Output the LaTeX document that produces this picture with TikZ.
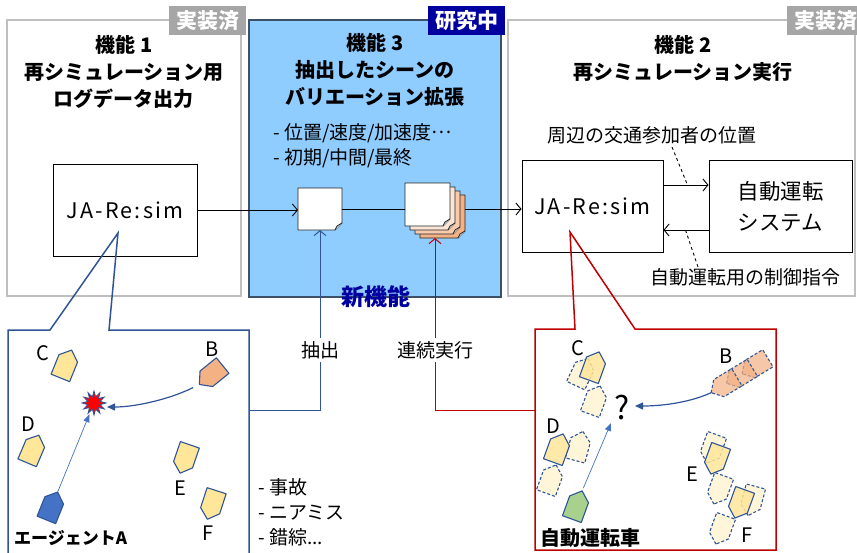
\documentclass[tikz,border=0pt]{standalone}
\usepackage{fontspec}
\setmainfont{Noto Sans CJK JP}
\usetikzlibrary{arrows.meta,calc,shapes.geometric}

\definecolor{frameGray}{RGB}{191,191,191}
\definecolor{tagGray}{RGB}{166,166,166}
\definecolor{tagBlue}{RGB}{0,0,160}
\definecolor{skyFill}{RGB}{143,204,255}
\definecolor{skyEdge}{RGB}{60,80,105}
\definecolor{navy}{RGB}{47,85,151}
\definecolor{lightNavy}{RGB}{68,114,196}
\definecolor{darkRed}{RGB}{192,0,0}
\definecolor{carYellow}{RGB}{255,230,153}
\definecolor{ghostYellow}{RGB}{255,242,204}
\definecolor{carOrange}{RGB}{244,177,131}
\definecolor{carGreen}{RGB}{169,209,142}
\definecolor{peachA}{RGB}{251,229,214}
\definecolor{peachB}{RGB}{248,203,173}
\definecolor{peachC}{RGB}{244,177,131}

\tikzset{
  frame/.style={draw=frameGray, line width=1.3},
  tagbox/.style={text=white, font=\fontsize{21}{21}\selectfont\bfseries,
    minimum width=77, minimum height=29, inner sep=0, anchor=north west},
  ttl/.style={align=center, font=\fontsize{20}{27}\selectfont\bfseries, inner sep=0},
  txt/.style={font=\fontsize{19}{25}\selectfont, inner sep=1},
  simbox/.style={draw=black, line width=1, fill=white, inner sep=0, minimum height=92},
  simfont/.style={font=\fontsize{21.5}{21.5}\selectfont\addfontfeatures{LetterSpace=10}},
  sheetnode/.style={minimum width=44, minimum height=42, inner sep=0, outer sep=0},
  sheetline/.style={draw=black!85, line width=0.8, line join=round},
  link/.style={draw=black, line width=0.9},
  oa/.style={-{Straight Barb[length=5pt,width=12pt]}},
  knock/.style={txt, fill=white, inner sep=3},
  calloutL/.style={draw=navy, line width=1.5},
  calloutR/.style={draw=darkRed, line width=1.5},
  carlbl/.style={font=\fontsize{20}{20}\selectfont, inner sep=0},
  solidcar/.style={draw=navy, line width=1.1, line join=round, fill=#1},
  softcar/.style={draw=navy, line width=1.1, line join=round, fill=#1, fill opacity=0.85},
  ghostcar/.style={draw=navy, line width=1.1, line join=round,
    dash pattern=on 3pt off 2pt, fill=#1, fill opacity=0.75},
  bghost/.style={draw=navy, line width=1.1, line join=round,
    dash pattern=on 3pt off 2pt, fill=peachC, fill opacity=0.7},
  pics/car/.style={code={
    \path[#1] (0,-15) -- (10,-6) -- (10,15) -- (-10,15) -- (-10,-6) -- cycle;
    \coordinate (-nose) at (0,-15);
  }},
}

% a sheet of paper with a curled lower right corner, drawn on a sheet node
\newcommand\drawsheet[2]{%
  \draw[sheetline, fill=#2] (#1.north west) -- (#1.north east)
    -- ($(#1.south east)+(0,-7)$) -- ($(#1.south east)+(-7,0)$)
    -- (#1.south west) -- cycle;
  \draw[sheetline, fill=black!12] ($(#1.south east)+(0,-7)$)
    -- ($(#1.south east)+(-5,-4)$) -- ($(#1.south east)+(-7,0)$);
}
% ellipsis set on the middle of the line
\newcommand\midellipsis{\raisebox{0.3em}{…}}

\begin{document}
\begin{tikzpicture}[x=1pt,y=-1pt]
\useasboundingbox (0,0) rectangle (857,552);
\fill[white] (0,0) rectangle (857,552);

% ---------- the three function panels ----------
\draw[frame] (7,20) rectangle (241,296);
\draw[draw=skyEdge, line width=1.3, fill=skyFill] (249,20) rectangle (501,297);
\draw[frame] (508,20) rectangle (855,296);

\node[tagbox, fill=tagGray] (tag1) at (169,6) {実装済};
\node[tagbox, fill=tagBlue] (tag3) at (428,6) {研究中};
\node[tagbox, fill=tagGray] (tag2) at (787,6) {実装済};

\node[ttl] (title1) at (124,72) {機能 1\\再シミュレーション用\\ログデータ出力};
\node[ttl] (title3) at (375,70) {機能 3\\抽出したシーンの\\バリエーション拡張};
\node[ttl] (title2) at (683,58.5) {機能 2\\再シミュレーション実行};

\node[txt, anchor=west, align=left] (vary) at (272,145.5)
  {- 位置/速度/加速度\midellipsis\\- 初期/中間/最終};

% ---------- simulators and driving system ----------
\node[simbox, simfont, minimum width=144] (ja1) at (125,210) {JA-Re:sim};
\node[simbox, simfont, minimum width=141] (ja2) at (592.5,206) {JA-Re:sim};
\node[simbox, minimum width=143, align=center,
      font=\fontsize{21.5}{31}\selectfont] (ads) at (780.5,206) {自動運転\\システム};

% ---------- extracted scene and its variations ----------
\node[sheetnode] (doc1) at (320,209) {};
\drawsheet{doc1}{white}

\node[sheetnode, minimum width=45, minimum height=43] (stack) at (427.5,204.5) {};
\node[sheetnode, minimum width=45, minimum height=43] (stack1) at ($(stack)+(5,4)$) {};
\node[sheetnode, minimum width=45, minimum height=43] (stack2) at ($(stack)+(10,8)$) {};
\node[sheetnode, minimum width=45, minimum height=43] (stack3) at ($(stack)+(15,12)$) {};
\drawsheet{stack3}{peachC}
\drawsheet{stack2}{peachB}
\drawsheet{stack1}{peachA}
\drawsheet{stack}{white}

% ---------- data flow ----------
\draw[link, oa] (ja1.east) -- (ja1.east -| doc1.west);
\draw[link] (doc1.east) -- (doc1.east -| stack.west);
\draw[link, oa] (doc1.east -| stack3.east) -- (doc1.east -| ja2.west);
\draw[link, oa] ($(ja2.east)+(0,-21)$) -- ($(ads.west)+(0,-21)$);
\draw[link, oa] ($(ads.west)+(0,24)$) -- ($(ja2.east)+(0,24)$);

\node[txt] (lab1) at (652,135) {周辺の交通参加者の位置};
\node[txt] (lab2) at (745,277) {自動運転用の制御指令};
\draw[link, dashed] ($(lab1.center)+(20,12)$) -- ($(ja2.east)+(24,-21)$);
\draw[link, dashed] ($(ja2.east)+(22,24)$) -- ($(lab2.center)+(-47,-10)$);

% ---------- callouts ----------
\coordinate (tipL) at (118,233);
\draw[calloutL] (tipL) -- (109,330) -- (249,330) -- (249,560) -- (8,560)
  -- (8,330) -- (50,330) -- cycle;
\coordinate (tipR) at (570,232);
\draw[calloutR] (tipR) -- (635,329) -- (776,329) -- (776,550) -- (535,550)
  -- (535,329) -- (575,329) -- cycle;

\coordinate (lpR) at (249,410);
\coordinate (rpL) at (535,410);
\draw[draw=navy, line width=1, oa] (lpR) -| (doc1.south);
\draw[draw=darkRed, line width=1, oa] (rpL) -| ($(stack3.south)+(-7.5,0)$);
\node[knock] (extract) at (320,350) {抽出};
\node[knock] (batch) at (435,350) {連続実行};

\node[font=\fontsize{23}{23}\selectfont\bfseries, text=tagBlue, inner sep=0]
  (newfn) at (376,297) {新機能};

% ---------- recorded scene ----------
\pic[rotate=-22] (lC) at (66,364) {car={solidcar=carYellow}};
\pic[rotate=-23] (lD) at (33,449) {car={solidcar=carYellow}};
\pic[rotate=-22] (lA) at (52,506) {car={solidcar=lightNavy}};
\pic[rotate=129] (lB) at (211,375) {car={solidcar=carOrange}};
\pic[rotate=161] (lE) at (185,459) {car={solidcar=carYellow}};
\pic[rotate=162] (lF) at (212,505) {car={solidcar=carYellow}};

\node[carlbl] (nC) at (43,353) {C};
\node[carlbl] (nB) at (212,349) {B};
\node[carlbl] (nD) at (28,424) {D};
\node[carlbl] (nE) at (180,488) {E};
\node[carlbl] (nF) at (208,533) {F};
\node[font=\fontsize{17}{17}\selectfont\bfseries, inner sep=0, anchor=west]
  (agentA) at (14,538) {エージェントA};

\node[star, star points=12, star point ratio=1.9, minimum size=24, inner sep=0,
      fill=red, draw=navy, line width=0.8] (crash) at (94,403) {};
\draw[lightNavy, line width=0.7, -{Triangle[length=8pt,width=6pt]},
      shorten >=3pt] (lA-nose) -- (crash);
\draw[navy, line width=1.2, -{Triangle[length=8pt,width=7pt]}, shorten <=7pt]
  (lB-nose) .. controls +(-28,14) and +(30,0) .. ($(crash.center)+(13,4)$);

\node[txt, anchor=west, align=left] (cases) at (257,512) {- 事故\\- ニアミス\\- 錯綜...};

% ---------- re-simulated scene ----------
\pic[rotate=-25] (rC1) at (582,372) {car={ghostcar=ghostYellow}};
\pic[rotate=-20] (rC2) at (595,400) {car={ghostcar=ghostYellow}};
\pic[rotate=-15] (rD1) at (579,446) {car={ghostcar=ghostYellow}};
\pic[rotate=-20] (rD2) at (551,479) {car={ghostcar=ghostYellow}};
\pic[rotate=160] (rE1) at (712,449) {car={ghostcar=ghostYellow}};
\pic[rotate=160] (rE2) at (719,490) {car={ghostcar=ghostYellow}};
\pic[rotate=165] (rF1) at (752,501) {car={ghostcar=ghostYellow}};
\pic[rotate=160] (rF2) at (721,530) {car={ghostcar=ghostYellow}};
\pic[rotate=-20] (rC) at (594,366) {car={softcar=carYellow}};
\pic[rotate=-20] (rD) at (558,448) {car={softcar=carYellow}};
\pic[rotate=160] (rE) at (716,460) {car={softcar=carYellow}};
\pic[rotate=160] (rF) at (740,504) {car={softcar=carYellow}};
\pic[rotate=121] (rB3) at (755,366) {car=bghost};
\pic[rotate=121] (rB2) at (739.5,375.6) {car=bghost};
\pic[rotate=121] (rB1) at (724,385) {car=bghost};
\pic[rotate=-20] (ego) at (577,505) {car={solidcar=carGreen}};

\node[carlbl] (mC) at (578,348) {C};
\node[carlbl] (mB) at (726,356) {B};
\node[carlbl] (mD) at (553,426) {D};
\node[carlbl] (mE) at (692,474) {E};
\node[carlbl] (mF) at (747,535) {F};
\node[font=\fontsize{32}{32}\selectfont, inner sep=0] (q) at (622,408) {?};
\node[font=\fontsize{20}{20}\selectfont\bfseries, inner sep=0, anchor=west]
  (egoname) at (540,538) {自動運転車};

\draw[lightNavy, line width=0.7, -{Triangle[length=8pt,width=6pt]}, shorten <=3pt]
  (ego-nose) -- ($(q.center)+(-11,15)$);
\draw[navy, line width=1.2, -{Triangle[length=8pt,width=7pt]}]
  (rB1-nose) .. controls +(-20,9) and +(30,0) .. ($(q.center)+(13,-2)$);
\end{tikzpicture}
\end{document}
